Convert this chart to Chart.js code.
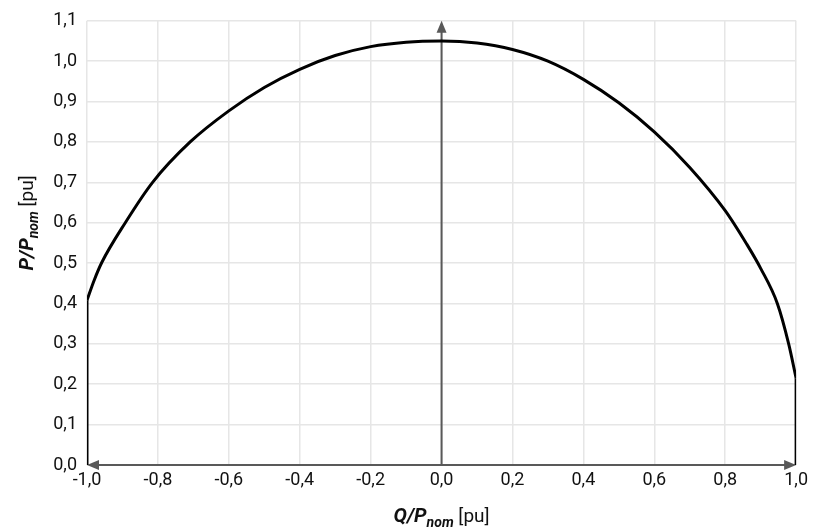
<!DOCTYPE html>
<html>
<head>
<meta charset="utf-8">
<script src="https://cdn.jsdelivr.net/npm/chart.js@4/dist/chart.umd.min.js"></script>
<style>
  html, body { margin: 0; padding: 0; background: #fff; }
  #wrap { width: 813px; height: 528px; }
</style>
</head>
<body>
<div id="wrap"><canvas id="myChart"></canvas></div>
<script>
// capability curve (Q/Pnom, P/Pnom)
const arcQ = [-1.0, -0.98, -0.958, -0.892, -0.815, -0.709, -0.6, -0.5, -0.4, -0.3, -0.2, -0.1, 0.0, 0.1, 0.2, 0.3, 0.4, 0.5, 0.6, 0.7, 0.8, 0.86, 0.9, 0.947, 0.979, 1.0];
const arcP = [0.408, 0.457, 0.502, 0.6, 0.7, 0.8, 0.877, 0.935, 0.98, 1.014, 1.036, 1.047, 1.05, 1.045, 1.029, 1.0, 0.955, 0.897, 0.825, 0.737, 0.63, 0.548, 0.487, 0.4, 0.3, 0.215];
const leftEdgeQ = [-1.0, -1.0];
const leftEdgeP = [0.0, 0.408];
const rightEdgeQ = [1.0, 1.0];
const rightEdgeP = [0.215, 0.0];

const xTickLabels = ["-1,0", "-0,8", "-0,6", "-0,4", "-0,2", "0,0", "0,2", "0,4", "0,6", "0,8", "1,0"];
const yTickLabels = ["0,0", "0,1", "0,2", "0,3", "0,4", "0,5", "0,6", "0,7", "0,8", "0,9", "1,0", "1,1"];

const toPoints = (qs, ps) => qs.map((q, i) => ({ x: q, y: ps[i] }));

const lineStyle = {
  showLine: true,
  borderColor: "#000",
  borderWidth: 3,
  pointRadius: 0,
  fill: false,
};

function arrowHead(ctx, x, y, dx, dy) {
  const len = 12, half = 5;
  const px = -dy, py = dx;
  ctx.beginPath();
  ctx.moveTo(x, y);
  ctx.lineTo(x - dx * len + px * half, y - dy * len + py * half);
  ctx.lineTo(x - dx * len - px * half, y - dy * len - py * half);
  ctx.closePath();
  ctx.fill();
}

const axesArrows = {
  id: "axesArrows",
  beforeDatasetsDraw(chart) {
    const { ctx, scales: { x, y } } = chart;
    const x0 = x.getPixelForValue(-1), x1 = x.getPixelForValue(1), xm = x.getPixelForValue(0);
    const y0 = y.getPixelForValue(0), y1 = y.getPixelForValue(1.1);
    ctx.save();
    ctx.strokeStyle = "#595959";
    ctx.fillStyle = "#595959";
    ctx.lineWidth = 2;
    ctx.beginPath();
    ctx.moveTo(x0 + 8, y0);
    ctx.lineTo(x1 - 8, y0);
    ctx.moveTo(xm, y0);
    ctx.lineTo(xm, y1 + 8);
    ctx.stroke();
    arrowHead(ctx, x0, y0, -1, 0);
    arrowHead(ctx, x1, y0, 1, 0);
    arrowHead(ctx, xm, y1, 0, -1);
    ctx.restore();
  },
};

// axis titles with italic bold symbol and subscript
function drawTitle(ctx, cx, cy, sym, sub, unit) {
  const mainFont = "italic bold 20px Roboto";
  const subFont = "italic bold 14px Roboto";
  const unitFont = "19px Roboto";
  ctx.font = mainFont; const w1 = ctx.measureText(sym).width;
  ctx.font = subFont; const w2 = ctx.measureText(sub).width;
  ctx.font = unitFont; const w3 = ctx.measureText(unit).width;
  let sx = cx - (w1 + w2 + w3) / 2;
  ctx.textBaseline = "alphabetic";
  ctx.textAlign = "left";
  ctx.fillStyle = "#111";
  ctx.font = mainFont; ctx.fillText(sym, sx, cy); sx += w1;
  ctx.font = subFont; ctx.fillText(sub, sx, cy + 5); sx += w2;
  ctx.font = unitFont; ctx.fillText(unit, sx, cy);
}

const axisTitles = {
  id: "axisTitles",
  afterDraw(chart) {
    const { ctx, chartArea } = chart;
    const cx = (chartArea.left + chartArea.right) / 2;
    const cy = (chartArea.top + chartArea.bottom) / 2;
    ctx.save();
    drawTitle(ctx, cx, 522, "Q/P", "nom", " [pu]");
    ctx.translate(33, cy - 20);
    ctx.rotate(-Math.PI / 2);
    drawTitle(ctx, 0, 0, "P/P", "nom", " [pu]");
    ctx.restore();
  },
};

new Chart(document.getElementById("myChart"), {
  type: "scatter",
  data: {
    datasets: [
      { ...lineStyle, data: toPoints(arcQ, arcP), cubicInterpolationMode: "monotone" },
      { ...lineStyle, data: toPoints(leftEdgeQ, leftEdgeP) },
      { ...lineStyle, data: toPoints(rightEdgeQ, rightEdgeP) },
    ],
  },
  options: {
    responsive: true,
    maintainAspectRatio: false,
    animation: false,
    layout: { padding: { left: 0, right: 16, top: 19, bottom: 0 } },
    plugins: {
      tooltip: { enabled: false },
      legend: { display: false },
    },
    scales: {
      x: {
        type: "linear",
        min: -1,
        max: 1,
        afterFit: (s) => { s.height = 63; },
        ticks: {
          stepSize: 0.2,
          padding: 5,
          color: "#111",
          font: { family: "Roboto", size: 18 },
          callback: (v, i) => xTickLabels[i],
        },
        grid: { color: "#e6e6e6", lineWidth: 1.5, drawTicks: false },
        border: { display: false },
      },
      y: {
        type: "linear",
        min: 0,
        max: 1.1,
        afterFit: (s) => { s.width = 87; },
        ticks: {
          stepSize: 0.1,
          padding: 10,
          color: "#111",
          font: { family: "Roboto", size: 18 },
          callback: (v, i) => yTickLabels[i],
        },
        grid: { color: "#e6e6e6", lineWidth: 1.5, drawTicks: false },
        border: { display: false },
      },
    },
  },
  plugins: [axesArrows, axisTitles],
});
</script>
</body>
</html>
